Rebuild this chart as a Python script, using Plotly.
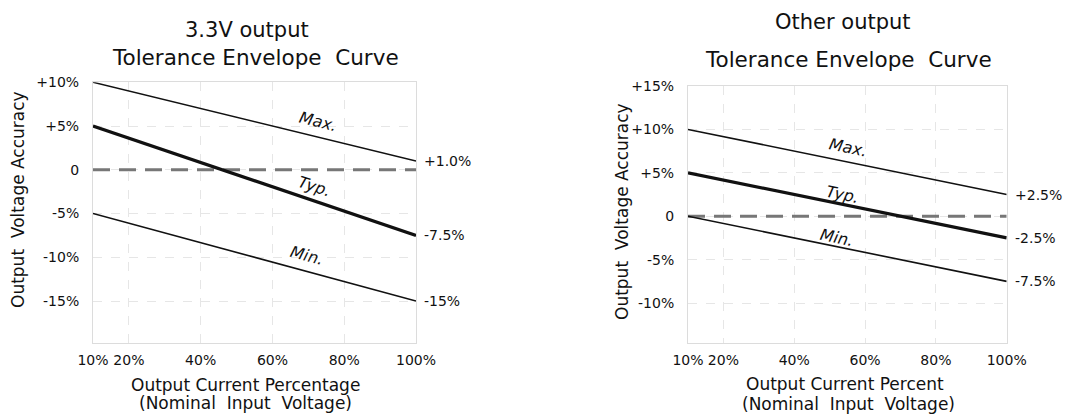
import plotly.graph_objects as go

# ---- data ----
load_pct = [10, 100]
x_ticks = [10, 20, 40, 60, 80, 100]
x_tick_text = ["10%", "20%", "40%", "60%", "80%", "100%"]

l_max = [10, 1.0]
l_typ = [5, -7.5]
l_min = [-5, -15]
l_y_ticks = [10, 5, 0, -5, -10, -15]
l_y_text = ["+10%", "+5%", "0", "-5%", "-10%", "-15%"]
l_end_text = ["+1.0%", "-7.5%", "-15%"]

r_max = [10, 2.5]
r_typ = [5, -2.5]
r_min = [0, -7.5]
r_y_ticks = [15, 10, 5, 0, -5, -10]
r_y_text = ["+15%", "+10%", "+5%", "0", "-5%", "-10%"]
r_end_text = ["+2.5%", "-2.5%", "-7.5%"]

ref_zero = [0, 0]

# label anchor positions (data units) and rotation
l_lab = {"Max.": (72.7, 5.5, 14), "Typ.": (71.8, -1.9, 18), "Min.": (69.6, -9.85, 15)}
r_lab = {"Max.": (55.2, 7.9, 12), "Typ.": (53.7, 2.5, 12), "Min.": (52.0, -2.45, 12)}

FONT = "DejaVu Sans"
fig = go.Figure()

def add_panel(xa, ya, mx, ty, mn):
    fig.add_trace(go.Scatter(x=load_pct, y=ref_zero, mode="lines", xaxis=xa, yaxis=ya,
                             line=dict(color="#777777", width=3, dash="17px,9px"), hoverinfo="skip"))
    fig.add_trace(go.Scatter(x=load_pct, y=mx, mode="lines", xaxis=xa, yaxis=ya,
                             line=dict(color="#111111", width=1.6)))
    fig.add_trace(go.Scatter(x=load_pct, y=ty, mode="lines", xaxis=xa, yaxis=ya,
                             line=dict(color="#111111", width=3.2)))
    fig.add_trace(go.Scatter(x=load_pct, y=mn, mode="lines", xaxis=xa, yaxis=ya,
                             line=dict(color="#111111", width=1.6)))

add_panel("x", "y", l_max, l_typ, l_min)
add_panel("x2", "y2", r_max, r_typ, r_min)

ax_common = dict(showline=True, mirror=True, linecolor="#dcdcdc", linewidth=1,
                 showgrid=True, gridcolor="#e6e6e6", griddash="dash", gridwidth=1,
                 zeroline=False, ticks="", automargin=False,
                 tickfont=dict(family=FONT, size=14, color="#111"))

fig.update_layout(
    width=1079, height=414, showlegend=False,
    paper_bgcolor="white", plot_bgcolor="white",
    margin=dict(l=0, r=0, t=0, b=0),
    xaxis=dict(domain=[93/1079, 416/1079], range=[10, 100], tickvals=x_ticks,
               ticktext=x_tick_text, ticklabelstandoff=4, anchor="y", **ax_common),
    yaxis=dict(domain=[1-343/414, 1-82.3/414], range=[-19.8, 10], tickvals=l_y_ticks,
               ticktext=l_y_text, ticklabelstandoff=10, anchor="x", **ax_common),
    xaxis2=dict(domain=[688/1079, 1006.7/1079], range=[10, 100], tickvals=x_ticks,
                ticktext=x_tick_text, ticklabelstandoff=4, anchor="y2", **ax_common),
    yaxis2=dict(domain=[1-343/414, 1-86/414], range=[-14.6, 15], tickvals=r_y_ticks,
                ticktext=r_y_text, ticklabelstandoff=10, anchor="x2", **ax_common),
)

ann = []
def txt(x, y, s, size, xref="paper", yref="paper", **kw):
    d = dict(x=x, y=y, text=s, xref=xref, yref=yref, showarrow=False,
             xanchor="center", yanchor="middle",
             font=dict(family=FONT, size=size, color="#111"))
    d.update(kw)
    ann.append(d)

# titles
txt(247/1079, 1-30/414, "3.3V output", 21)
txt(255/1079, 1-58/414, "Tolerance Envelope  Curve", 21.5)
txt(843/1079, 1-22/414, "Other output", 21)
txt(848/1079, 1-60/414, "Tolerance Envelope  Curve", 21.5)
# axis titles
txt(245/1079, 1-385/414, "Output Current Percentage", 17)
txt(245/1079, 1-403/414, "(Nominal  Input  Voltage)", 17)
txt(845/1079, 1-384/414, "Output Current Percent", 17)
txt(848/1079, 1-404/414, "(Nominal  Input  Voltage)", 17)
txt(18/1079, 1-200/414, "Output  Voltage Accuracy", 17, textangle=-90)
txt(622/1079, 1-212/414, "Output  Voltage Accuracy", 17, textangle=-90)

# end labels
for vals, s in zip([l_max[1], l_typ[1], l_min[1]], l_end_text):
    txt(100, vals, s, 14, xref="x", yref="y", xanchor="left", xshift=6)
for vals, s in zip([r_max[1], r_typ[1], r_min[1]], r_end_text):
    txt(100, vals, s, 14, xref="x2", yref="y2", xanchor="left", xshift=6)

# line labels
for k, (x, y, a) in l_lab.items():
    txt(x, y, "<i>%s</i>" % k, 16, xref="x", yref="y", textangle=a)
for k, (x, y, a) in r_lab.items():
    txt(x, y, "<i>%s</i>" % k, 16, xref="x2", yref="y2", textangle=a)

fig.update_layout(annotations=ann)
fig.write_html("out.html", config={"displayModeBar": False},
               post_script="document.body.style.margin='0';")
